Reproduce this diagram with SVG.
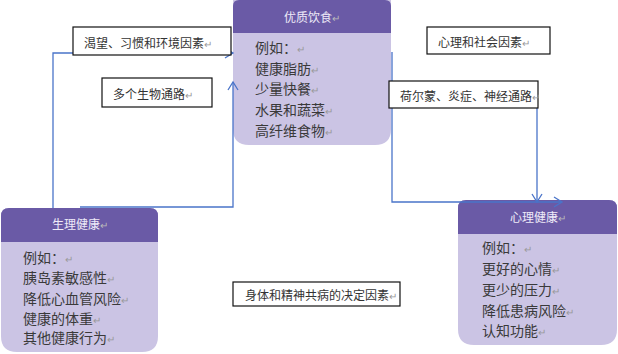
<svg xmlns="http://www.w3.org/2000/svg" width="618" height="354" viewBox="0 0 618 354">
<style>
.body{fill:#cbc4e4}
.head{fill:#6a5aa6}
.ht{font-family:"Noto Sans CJK SC",sans-serif;font-size:12px;fill:#eeeaf8;text-anchor:middle}
.bt{font-family:"Noto Sans CJK SC",sans-serif;font-size:14px;fill:#3a3a3a}
.lb{fill:#fff;stroke:#111;stroke-width:1.2}
.lt{font-family:"Noto Sans CJK SC",sans-serif;font-size:12px;fill:#333}
.rm{fill:#999;font-size:10px}
.hm{fill:#bbb;font-size:10px}
.cn{fill:none;stroke:#4a74c9;stroke-width:1.3}
</style>
<defs>
<marker id="ar" markerWidth="12" markerHeight="12" refX="9" refY="6" orient="auto" markerUnits="userSpaceOnUse">
<path d="M1,1 L9,6 L1,11" fill="none" stroke="#4a74c9" stroke-width="1.3"/>
</marker>
</defs>
<g id="node-diet">
<path class="body" d="M233,0 H391 V129 Q391,145 375,145 H249 Q233,145 233,129 Z"/>
<path class="head" d="M233,6 Q233,0 239,0 H385 Q391,0 391,6 V33 H233 Z"/>
<text class="ht" x="312" y="22">优质饮食<tspan class="hm">↵</tspan></text>
<text class="bt" x="255" y="53">例如：<tspan class="rm">↵</tspan></text>
<text class="bt" x="255" y="74">健康脂肪<tspan class="rm">↵</tspan></text>
<text class="bt" x="255" y="94">少量快餐<tspan class="rm">↵</tspan></text>
<text class="bt" x="255" y="115">水果和蔬菜<tspan class="rm">↵</tspan></text>
<text class="bt" x="255" y="136">高纤维食物<tspan class="rm">↵</tspan></text>
</g>
<g id="node-physical">
<path class="body" d="M1,216 Q1,208 9,208 H150 Q158,208 158,216 V336 Q158,352 142,352 H17 Q1,352 1,336 Z"/>
<path class="head" d="M1,216 Q1,208 9,208 H150 Q158,208 158,216 V242 H1 Z"/>
<text class="ht" x="80" y="229">生理健康<tspan class="hm">↵</tspan></text>
<text class="bt" x="23" y="263">例如：<tspan class="rm">↵</tspan></text>
<text class="bt" x="23" y="283">胰岛素敏感性<tspan class="rm">↵</tspan></text>
<text class="bt" x="23" y="304">降低心血管风险<tspan class="rm">↵</tspan></text>
<text class="bt" x="23" y="324">健康的体重<tspan class="rm">↵</tspan></text>
<text class="bt" x="23" y="343">其他健康行为<tspan class="rm">↵</tspan></text>
</g>
<g id="node-mental">
<path class="body" d="M458,208 Q458,200 466,200 H609 Q617,200 617,208 V329 Q617,345 601,345 H474 Q458,345 458,329 Z"/>
<path class="head" d="M458,208 Q458,200 466,200 H609 Q617,200 617,208 V234 H458 Z"/>
<text class="ht" x="538" y="222">心理健康<tspan class="hm">↵</tspan></text>
<text class="bt" x="482" y="253">例如：<tspan class="rm">↵</tspan></text>
<text class="bt" x="482" y="274">更好的心情<tspan class="rm">↵</tspan></text>
<text class="bt" x="482" y="295">更少的压力<tspan class="rm">↵</tspan></text>
<text class="bt" x="482" y="316">降低患病风险<tspan class="rm">↵</tspan></text>
<text class="bt" x="482" y="336">认知功能<tspan class="rm">↵</tspan></text>
</g>
<g id="connectors">
<path class="cn" d="M53,208 V53 H233" marker-end="url(#ar)"/>
<path class="cn" d="M80,207 H233 V82" marker-end="url(#ar)"/>
<path class="cn" d="M392,52 V202 H562" marker-end="url(#ar)"/>
<path class="cn" d="M392,82 H537 V202" marker-end="url(#ar)"/>
</g>
<g id="label-craving">
<rect class="lb" x="73" y="27" width="158" height="28"/>
<text class="lt" x="84" y="48">渴望、习惯和环境因素<tspan class="rm">↵</tspan></text>
</g>
<g id="label-bio">
<rect class="lb" x="102" y="78" width="110" height="29"/>
<text class="lt" x="113" y="99">多个生物通路<tspan class="rm">↵</tspan></text>
</g>
<g id="label-psych">
<rect class="lb" x="427" y="27" width="123" height="27"/>
<text class="lt" x="438" y="47">心理和社会因素<tspan class="rm">↵</tspan></text>
</g>
<g id="label-hormone">
<rect class="lb" x="389" y="81" width="149" height="27"/>
<text class="lt" x="400" y="101">荷尔蒙、炎症、神经通路<tspan class="rm">↵</tspan></text>
</g>
<g id="label-comorbid">
<rect class="lb" x="233" y="282" width="167" height="24"/>
<text class="lt" x="245" y="300">身体和精神共病的决定因素<tspan class="rm">↵</tspan></text>
</g>
</svg>
